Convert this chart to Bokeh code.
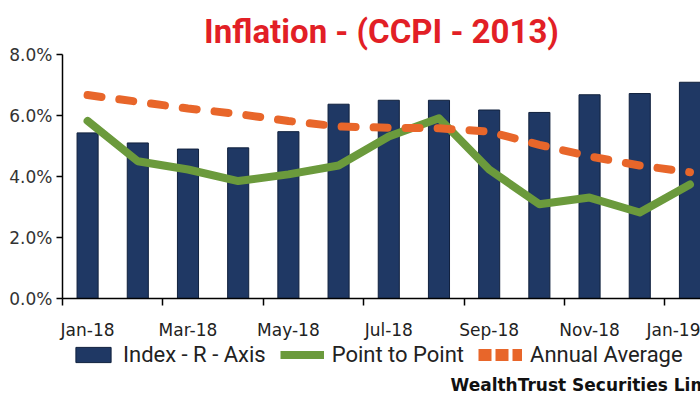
from bokeh.plotting import figure
from bokeh.models import FixedTicker, Legend, LegendItem, Label, Range1d, ColumnDataSource
from bokeh.layouts import column
from bokeh.embed import file_html
from bokeh.resources import INLINE

months = ["Jan-18", "Feb-18", "Mar-18", "Apr-18", "May-18", "Jun-18", "Jul-18",
          "Aug-18", "Sep-18", "Oct-18", "Nov-18", "Dec-18", "Jan-19"]
index_r_axis = [5.43, 5.10, 4.90, 4.94, 5.47, 6.37, 6.50, 6.50, 6.18, 6.10, 6.68, 6.72, 7.09]
point_to_point = [5.82, 4.50, 4.23, 3.85, 4.07, 4.36, 5.31, 5.91, 4.23, 3.09, 3.31, 2.82, 3.74]
annual_average = [6.67, 6.45, 6.23, 6.05, 5.82, 5.64, 5.60, 5.58, 5.47, 5.04, 4.66, 4.36, 4.14]
y_ticks = [0, 2, 4, 6, 8]

NAVY = "#1f3864"
GREEN = "#6b9a3c"
ORANGE = "#e8662a"

xs = list(range(len(months)))
src = ColumnDataSource(dict(x=xs, idx=index_r_axis, p2p=point_to_point, avg=annual_average))

# ---------------- main chart ----------------
p = figure(width=700, height=342, output_backend="svg", toolbar_location=None,
           x_range=Range1d(-0.5, 12.21), y_range=Range1d(0, 8),
           min_border_left=62, min_border_right=0, min_border_top=54, min_border_bottom=40)
p.outline_line_color = None
p.grid.visible = False

p.title.text = "Inflation - (CCPI - 2013)"
p.title.text_font = "Roboto"
p.title.text_font_style = "bold"
p.title.text_font_size = "33px"
p.title.text_color = "#e21f26"
p.title.align = "center"
p.title.standoff = 7

p.vbar(x="x", top="idx", width=0.42, source=src, fill_color=NAVY,
       line_color="#10203d", line_width=1)
p.line(x="x", y="p2p", source=src, line_color=GREEN, line_width=8,
       line_join="round", line_cap="round")
p.line(x="x", y="avg", source=src, line_color=ORANGE, line_width=8,
       line_dash="14 18", line_cap="round")

xa = p.xaxis[0]
xa.ticker = FixedTicker(ticks=xs[::2], minor_ticks=[i + 0.5 for i in range(-1, 13, 2)])
xa.major_label_overrides = {i: months[i] for i in xs}
xa.major_tick_line_color = None
xa.major_tick_out = 0
xa.major_tick_in = 0
xa.minor_tick_out = 7
xa.minor_tick_in = 0
xa.minor_tick_line_color = "black"
xa.minor_tick_line_width = 1.5
xa.axis_line_color = "black"
xa.axis_line_width = 1.5
xa.major_label_standoff = 14
xa.major_label_text_font = "DejaVu Sans"
xa.major_label_text_font_size = "17px"
xa.major_label_text_color = "#222222"

ya = p.yaxis[0]
ya.ticker = FixedTicker(ticks=y_ticks)
ya.major_label_overrides = {t: f"{t:.1f}%" for t in y_ticks}
ya.minor_tick_line_color = None
ya.major_tick_out = 6
ya.major_tick_in = 0
ya.major_tick_line_color = "black"
ya.major_tick_line_width = 1.5
ya.axis_line_color = "black"
ya.axis_line_width = 1.5
ya.major_label_standoff = 4
ya.major_label_text_font = "DejaVu Sans"
ya.major_label_text_font_size = "17px"
ya.major_label_text_color = "#333333"

# ---------------- legend strip + credit ----------------
# strip frame is aligned with the chart frame (x from 62 to 700 px), data units = pixels
f2 = figure(width=700, height=58, output_backend="svg", toolbar_location=None,
            x_range=Range1d(62, 700), y_range=Range1d(100, 158),
            x_axis_location=None, y_axis_location=None,
            min_border_left=62, min_border_right=0, min_border_top=0, min_border_bottom=0)
f2.outline_line_color = None
f2.grid.visible = False

# legend swatch renderers (their data lie outside this strip's range, only the swatches show)
lb = f2.vbar(x="x", top="idx", width=0.42, source=src, fill_color=NAVY, line_color="#10203d")
ll = f2.line(x="x", y="p2p", source=src, line_color=GREEN, line_width=8)
la = f2.line(x="x", y="avg", source=src, line_color=ORANGE, line_width=12, line_dash="13 4")

legend = Legend(items=[LegendItem(label="Index - R - Axis", renderers=[lb]),
                       LegendItem(label="Point to Point", renderers=[ll]),
                       LegendItem(label="Annual Average", renderers=[la])],
                orientation="horizontal", location=(9, 33),
                label_text_font="Roboto", label_text_font_size="22px",
                label_text_color="#222222", glyph_width=44, glyph_height=19,
                label_standoff=8, spacing=14, padding=2, margin=0,
                border_line_color=None, background_fill_alpha=0)
f2.add_layout(legend, "center")

credit = Label(x=450, y=116, text="WealthTrust Securities Limited",
               text_font="DejaVu Sans", text_font_style="bold", text_font_size="17px",
               text_color="#111111", text_baseline="alphabetic")
f2.add_layout(credit)

open("out.html", "w").write(file_html(column(p, f2), INLINE))
